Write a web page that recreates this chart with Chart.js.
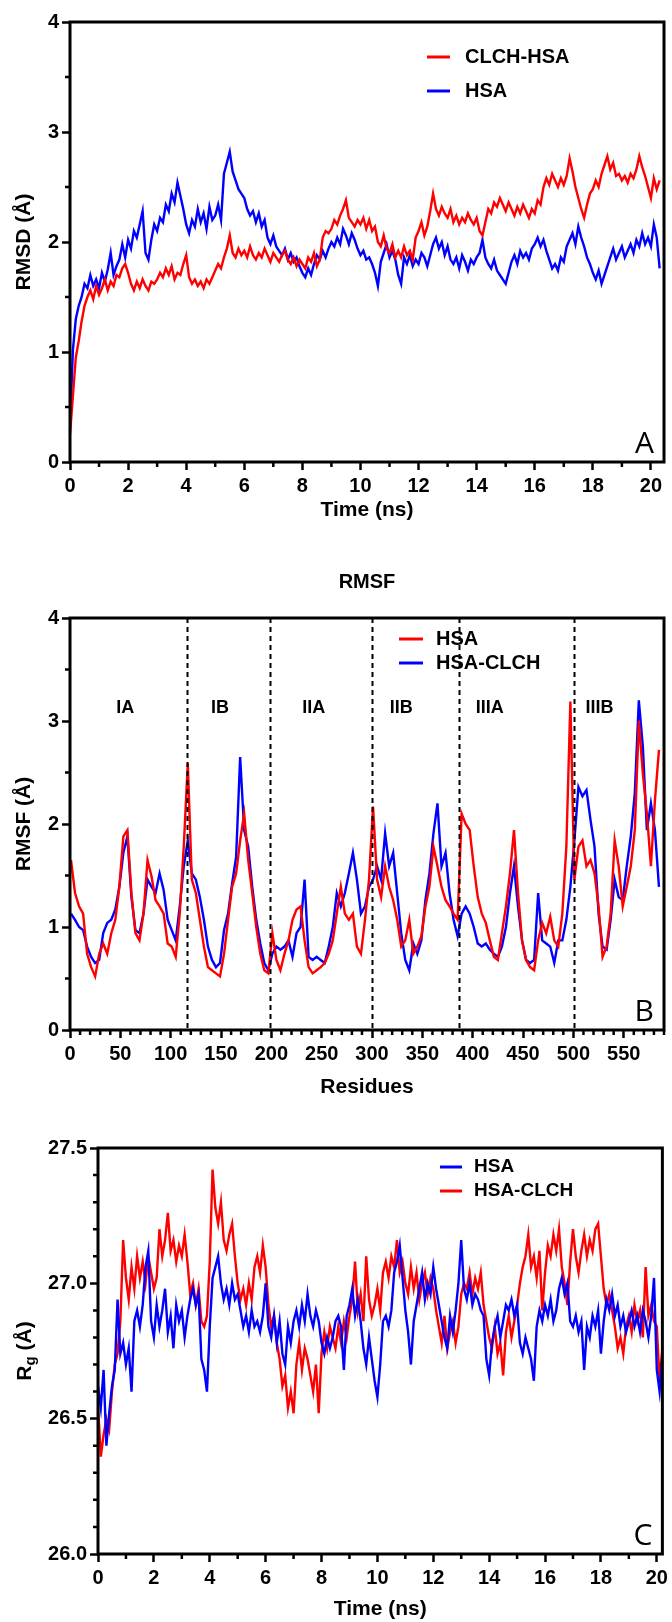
<!DOCTYPE html>
<html lang="en">
<head>
    <meta charset="UTF-8">
    <title>RMSD, RMSF and Rg - HSA / CLCH-HSA</title>
    <script src="https://cdn.jsdelivr.net/npm/chart.js"></script>
    <style>
        body {
            margin: 0;
            background: #fff;
        }

        .panel {
            position: absolute;
            left: 0;
        }

        #panelA { top: 0; }
        #panelB { top: 530px; }
        #panelC { top: 1110px; }
    </style>
</head>
<body>
    <div class="panel" id="panelA"><canvas id="rmsdChart" width="672" height="530"></canvas></div>
    <div class="panel" id="panelB"><canvas id="rmsfChart" width="672" height="580"></canvas></div>
    <div class="panel" id="panelC"><canvas id="rgChart" width="672" height="512"></canvas></div>

    <script>
        // ---- Panel A: RMSD (A), one value every 0.1 ns from 0 ns ----
        const rmsdTimeStep = 0.1;
        const rmsdComplex = [
            0.25, 0.60, 0.95, 1.10, 1.28, 1.42, 1.50, 1.56, 1.48, 1.60,
            1.52, 1.58, 1.66, 1.56, 1.64, 1.60, 1.70, 1.68, 1.76, 1.80,
            1.72, 1.62, 1.56, 1.64, 1.58, 1.66, 1.60, 1.56, 1.64, 1.62,
            1.66, 1.72, 1.68, 1.76, 1.70, 1.78, 1.66, 1.72, 1.70, 1.80,
            1.88, 1.68, 1.62, 1.66, 1.60, 1.64, 1.58, 1.66, 1.62, 1.68,
            1.74, 1.80, 1.76, 1.86, 1.94, 2.06, 1.90, 1.86, 1.94, 1.88,
            1.92, 1.86, 1.96, 1.88, 1.84, 1.90, 1.86, 1.94, 1.88, 1.82,
            1.90, 1.86, 1.82, 1.88, 1.92, 1.84, 1.80, 1.86, 1.78, 1.84,
            1.80, 1.76, 1.86, 1.82, 1.90, 1.78, 1.84, 2.04, 2.10, 2.08,
            2.12, 2.20, 2.16, 2.24, 2.30, 2.38, 2.22, 2.18, 2.14, 2.20,
            2.16, 2.22, 2.12, 2.20, 2.10, 2.14, 2.00, 1.96, 2.06, 1.94,
            1.90, 1.98, 1.86, 1.92, 1.86, 1.96, 1.88, 1.92, 1.84, 2.04,
            2.10, 2.18, 2.06, 2.14, 2.28, 2.44, 2.30, 2.24, 2.32, 2.26,
            2.22, 2.30, 2.18, 2.24, 2.16, 2.22, 2.18, 2.26, 2.20, 2.16,
            2.22, 2.10, 2.06, 2.18, 2.30, 2.26, 2.36, 2.32, 2.40, 2.34,
            2.28, 2.36, 2.30, 2.24, 2.32, 2.26, 2.34, 2.28, 2.22, 2.30,
            2.26, 2.38, 2.34, 2.50, 2.58, 2.52, 2.62, 2.56, 2.50, 2.58,
            2.52, 2.60, 2.76, 2.64, 2.50, 2.40, 2.30, 2.22, 2.34, 2.44,
            2.48, 2.56, 2.50, 2.62, 2.70, 2.78, 2.66, 2.72, 2.60, 2.62,
            2.56, 2.60, 2.54, 2.62, 2.58, 2.66, 2.78, 2.68, 2.60, 2.50,
            2.40, 2.58, 2.48, 2.56
        ];
        const rmsdFree = [
            0.30, 1.02, 1.30, 1.42, 1.50, 1.62, 1.58, 1.70, 1.60, 1.66,
            1.58, 1.72, 1.64, 1.75, 1.90, 1.70, 1.78, 1.84, 1.98, 1.86,
            2.02, 1.94, 2.10, 2.04, 2.16, 2.28, 1.90, 1.84, 2.02, 2.16,
            2.10, 2.22, 2.18, 2.34, 2.28, 2.44, 2.36, 2.54, 2.42, 2.30,
            2.16, 2.08, 2.20, 2.14, 2.30, 2.18, 2.26, 2.12, 2.32, 2.20,
            2.24, 2.34, 2.20, 2.62, 2.72, 2.82, 2.64, 2.56, 2.48, 2.44,
            2.40, 2.30, 2.24, 2.28, 2.18, 2.26, 2.14, 2.20, 2.04, 1.98,
            2.06, 1.96, 1.92, 1.88, 1.94, 1.84, 1.90, 1.82, 1.86, 1.78,
            1.72, 1.68, 1.76, 1.70, 1.80, 1.88, 1.84, 1.92, 1.86, 1.94,
            2.00, 1.96, 2.04, 1.98, 2.12, 2.06, 1.98, 2.08, 2.02, 1.94,
            1.88, 1.92, 1.84, 1.86, 1.80, 1.72, 1.60, 1.82, 1.90, 1.98,
            1.86, 1.92, 1.84, 1.70, 1.62, 1.86, 1.80, 1.88, 1.78, 1.84,
            1.80, 1.90, 1.86, 1.78, 1.88, 1.98, 2.04, 1.94, 2.00, 1.88,
            1.96, 1.84, 1.80, 1.86, 1.76, 1.88, 1.82, 1.74, 1.84, 1.80,
            1.86, 1.90, 2.02, 1.86, 1.80, 1.76, 1.84, 1.74, 1.70, 1.66,
            1.62, 1.72, 1.82, 1.88, 1.80, 1.92, 1.86, 1.90, 1.84, 1.94,
            1.98, 2.04, 1.96, 2.02, 1.92, 1.84, 1.76, 1.80, 1.74, 1.86,
            1.82, 1.96, 2.02, 2.08, 1.98, 2.14, 2.04, 1.96, 1.86, 1.80,
            1.72, 1.66, 1.74, 1.62, 1.70, 1.78, 1.86, 1.94, 1.84, 1.90,
            1.96, 1.86, 1.92, 1.98, 1.90, 2.02, 1.96, 2.08, 1.98, 2.04,
            1.96, 2.16, 2.04, 1.76
        ];

        // ---- Panel B: RMSF (A), every 4th residue starting at residue 1 ----
        const residueStep = 4;
        const rmsfHSA = [
            1.65, 1.33, 1.20, 1.13, 0.74, 0.61, 0.52, 0.74, 0.84, 0.74,
            0.94, 1.07, 1.39, 1.88, 1.94, 1.33, 0.94, 0.87, 1.13, 1.65,
            1.49, 1.26, 1.20, 1.13, 0.84, 0.81, 0.71, 1.13, 1.78, 2.59,
            1.46, 1.33, 1.07, 0.81, 0.61, 0.58, 0.55, 0.52, 0.74, 1.07,
            1.39, 1.52, 1.84, 2.10, 1.65, 1.33, 1.00, 0.74, 0.58, 0.55,
            0.94, 0.68, 0.58, 0.74, 0.87, 1.07, 1.17, 1.20, 0.87, 0.61,
            0.55, 0.58, 0.61, 0.65, 0.74, 0.87, 1.13, 1.39, 1.13, 1.07,
            1.13, 0.81, 0.74, 1.07, 1.46, 2.17, 1.46, 1.29, 1.59, 1.39,
            1.26, 1.07, 0.81, 0.87, 1.07, 0.74, 0.81, 0.91, 1.20, 1.39,
            1.78, 1.59, 1.39, 1.26, 1.20, 1.13, 1.07, 2.10, 2.00, 1.94,
            1.59, 1.29, 1.13, 1.04, 0.87, 0.71, 0.68, 0.94, 1.20, 1.52,
            1.94, 1.33, 0.87, 0.68, 0.61, 0.58, 0.87, 1.04, 0.94, 1.10,
            0.87, 0.81, 1.13, 1.78, 3.19, 1.46, 1.78, 1.84, 1.59, 1.65,
            1.52, 1.20, 0.71, 0.81, 1.13, 1.84, 1.59, 1.20, 1.39, 1.59,
            1.94, 3.00, 2.49, 2.10, 1.59, 2.23, 2.72
        ];
        const rmsfComplex = [
            1.13, 1.07, 1.00, 0.97, 0.81, 0.71, 0.65, 0.68, 0.94, 1.04,
            1.07, 1.17, 1.39, 1.72, 1.88, 1.29, 0.97, 0.94, 1.13, 1.46,
            1.39, 1.33, 1.52, 1.36, 1.07, 0.97, 0.87, 1.20, 1.59, 1.84,
            1.52, 1.46, 1.29, 1.07, 0.81, 0.68, 0.61, 0.65, 0.97, 1.13,
            1.42, 1.68, 2.65, 1.94, 1.78, 1.39, 1.07, 0.84, 0.65, 0.58,
            0.74, 0.81, 0.78, 0.81, 0.87, 0.71, 0.94, 1.00, 1.46, 0.71,
            0.68, 0.71, 0.68, 0.65, 0.81, 1.00, 1.33, 1.20, 1.33, 1.52,
            1.72, 1.46, 1.13, 1.20, 1.39, 1.46, 1.59, 1.46, 1.91, 1.59,
            1.72, 1.33, 0.94, 0.68, 0.58, 0.84, 0.74, 0.87, 1.26, 1.52,
            1.91, 2.20, 1.59, 1.72, 1.33, 1.07, 0.91, 1.13, 1.20, 1.13,
            1.00, 0.84, 0.81, 0.84, 0.78, 0.74, 0.71, 0.81, 1.00, 1.33,
            1.59, 1.20, 0.87, 0.68, 0.65, 0.68, 1.33, 0.87, 0.84, 0.81,
            0.65, 0.87, 0.87, 1.07, 1.39, 1.84, 2.36, 2.27, 2.33, 2.04,
            1.78, 1.13, 0.81, 0.78, 1.07, 1.46, 1.29, 1.26, 1.59, 1.88,
            2.30, 3.20, 2.75, 1.94, 2.20, 1.94, 1.39
        ];
        const domainBounds = [116, 199, 300, 386, 501];
        const domainNames = ['IA', 'IB', 'IIA', 'IIB', 'IIIA', 'IIIB'];
        const domainLabelX = [55, 149, 242, 329, 417, 526];
        const domainLabelY = 3.13;

        // ---- Panel C: Rg (A), one value every 0.1 ns from 0 ns ----
        const rgTimeStep = 0.1;
        const rgFree = [
            26.62, 26.54, 26.68, 26.40, 26.52, 26.62, 26.68, 26.94, 26.74, 26.78,
            26.70, 26.76, 26.60, 26.86, 26.90, 26.84, 26.92, 27.06, 27.12, 26.86,
            26.80, 26.92, 26.84, 26.90, 26.98, 26.82, 26.88, 26.76, 26.92, 26.86,
            26.90, 26.80, 26.88, 26.94, 26.98, 26.92, 26.96, 26.72, 26.68, 26.60,
            26.84, 27.02, 27.06, 27.10, 27.00, 26.94, 26.98, 26.92, 27.00, 26.94,
            26.96, 26.90, 26.84, 26.88, 26.82, 26.90, 26.84, 26.86, 26.82, 26.88,
            27.00, 26.84, 26.80, 26.88, 26.78, 26.86, 26.74, 26.70, 26.84, 26.78,
            26.86, 26.90, 26.84, 26.92, 26.86, 26.96, 26.88, 26.84, 26.90, 26.86,
            26.78, 26.74, 26.80, 26.76, 26.80, 26.86, 26.88, 26.84, 26.68, 26.88,
            26.92, 26.98, 26.88, 26.94, 26.86, 26.76, 26.70, 26.80, 26.72, 26.64,
            26.58, 26.70, 26.86, 26.88, 26.84, 26.90, 27.04, 27.08, 27.14, 27.02,
            26.90, 26.82, 26.70, 26.86, 26.92, 26.98, 27.04, 26.94, 27.00, 26.96,
            27.06, 26.98, 26.92, 26.86, 26.80, 26.76, 26.88, 26.82, 26.90, 27.00,
            27.16, 26.98, 26.94, 27.00, 26.92, 26.96, 26.94, 26.90, 26.88, 26.72,
            26.66, 26.78, 26.84, 26.88, 26.80, 26.86, 26.92, 26.90, 26.94, 26.88,
            26.92, 26.78, 26.74, 26.80, 26.76, 26.72, 26.64, 26.84, 26.90, 26.86,
            26.92, 26.88, 26.94, 26.86, 26.90, 26.98, 27.02, 26.96, 27.00, 26.86,
            26.84, 26.88, 26.82, 26.86, 26.68, 26.84, 26.80, 26.88, 26.84, 26.90,
            26.74, 26.86, 26.94, 26.90, 26.96, 26.88, 26.92, 26.84, 26.88, 26.82,
            26.86, 26.90, 26.84, 26.88, 26.82, 26.90, 26.86, 26.80, 26.88, 27.02,
            26.68, 26.60, 26.74
        ];
        const rgComplex = [
            26.55, 26.36, 26.44, 26.50, 26.46, 26.60, 26.70, 26.74, 26.86, 27.16,
            27.02, 26.94, 27.06, 26.98, 27.10, 27.02, 27.08, 27.00, 27.10, 27.04,
            26.98, 27.02, 27.20, 27.10, 27.16, 27.26, 27.12, 27.16, 27.08, 27.14,
            27.10, 27.18, 27.08, 26.96, 27.00, 26.92, 26.98, 26.86, 26.84, 26.88,
            27.08, 27.42, 27.28, 27.22, 27.30, 27.16, 27.12, 27.18, 27.22, 27.10,
            27.00, 26.94, 26.98, 26.92, 27.00, 26.94, 27.06, 27.10, 27.04, 27.14,
            27.06, 26.92, 26.84, 26.88, 26.78, 26.72, 26.62, 26.66, 26.54, 26.60,
            26.52, 26.70, 26.78, 26.68, 26.76, 26.72, 26.66, 26.60, 26.70, 26.52,
            26.74, 26.82, 26.76, 26.84, 26.80, 26.76, 26.84, 26.78, 26.86, 26.80,
            26.88, 26.94, 27.08, 26.90, 26.96, 26.86, 27.10, 26.94, 26.88, 26.92,
            26.98, 26.90, 27.04, 27.08, 27.02, 27.10, 27.06, 27.16, 27.04, 27.08,
            27.00, 26.96, 27.06, 26.98, 27.04, 26.94, 27.00, 27.04, 26.96, 27.02,
            26.98, 26.90, 26.84, 26.78, 26.88, 26.76, 26.82, 26.86, 26.78, 26.84,
            26.96, 27.00, 26.98, 27.04, 26.96, 27.02, 26.98, 27.04, 26.92, 26.86,
            26.80, 26.76, 26.84, 26.74, 26.78, 26.66, 26.82, 26.88, 26.80, 26.86,
            26.92, 27.00, 27.06, 27.10, 27.18, 27.06, 27.10, 27.02, 27.12, 26.90,
            27.04, 27.14, 27.10, 27.18, 27.12, 27.20, 27.06, 27.00, 26.92, 27.08,
            27.20, 27.10, 27.04, 27.12, 27.18, 27.10, 27.16, 27.12, 27.20, 27.22,
            27.10, 26.98, 26.92, 26.96, 26.90, 26.84, 26.76, 26.80, 26.74, 26.84,
            26.88, 26.82, 26.92, 26.86, 26.90, 26.80, 27.06, 26.88, 26.92, 26.86,
            26.84, 26.64, 26.76
        ];

        const RED = '#ff0000';
        const BLUE = '#0000ff';
        const FONT = "'Liberation Sans', Arial, Helvetica, sans-serif";

        Chart.defaults.font.family = FONT;
        Chart.defaults.color = '#000';

        // pair an x grid with the values of one series
        function toPoints(values, xAt) {
            return values.map((v, i) => ({ x: xAt(i), y: v }));
        }
        const rmsdTime = i => +(i * rmsdTimeStep).toFixed(1);
        const rgTime = i => +(i * rgTimeStep).toFixed(1);
        const residueAt = i => 1 + residueStep * i;

        function lineSet(label, values, xAt, color) {
            return {
                label: label,
                data: toPoints(values, xAt),
                borderColor: color,
                backgroundColor: color,
                borderWidth: 2.4,
                pointRadius: 0,
                tension: 0,
                fill: false
            };
        }

        // boxed frame, minor ticks, legend, panel letter and panel extras
        const panelDecor = {
            id: 'panelDecor',
            afterDatasetsDraw(chart, args, opts) {
                const { ctx, chartArea: a, scales: { x, y } } = chart;
                ctx.save();

                // dashed domain separators (panel B)
                if (opts.bounds) {
                    ctx.strokeStyle = '#000';
                    ctx.lineWidth = 2;
                    ctx.setLineDash([5, 4]);
                    opts.bounds.forEach(b => {
                        const px = Math.round(x.getPixelForValue(b)) + 0.5;
                        ctx.beginPath();
                        ctx.moveTo(px, a.top);
                        ctx.lineTo(px, a.bottom);
                        ctx.stroke();
                    });
                    ctx.setLineDash([]);
                    ctx.font = 'bold 18px ' + FONT;
                    ctx.fillStyle = '#000';
                    ctx.textAlign = 'center';
                    ctx.textBaseline = 'middle';
                    opts.names.forEach((n, i) => {
                        ctx.fillText(n, x.getPixelForValue(opts.namesX[i]), y.getPixelForValue(opts.namesY));
                    });
                }

                // frame
                ctx.strokeStyle = '#000';
                ctx.lineWidth = 3;
                ctx.strokeRect(a.left, a.top, a.right - a.left, a.bottom - a.top);

                // minor ticks
                ctx.lineWidth = 2.5;
                ctx.beginPath();
                const xs = opts.xMinor, ys = opts.yMinor;
                for (let k = 0; x.min + k * xs <= x.max + 1e-9; k++) {
                    const v = x.min + k * xs;
                    if (Math.abs(v / opts.xMajor - Math.round(v / opts.xMajor)) < 1e-6) continue;
                    const px = x.getPixelForValue(v);
                    ctx.moveTo(px, a.bottom);
                    ctx.lineTo(px, a.bottom + 5);
                }
                for (let k = 0; y.min + k * ys <= y.max + 1e-9; k++) {
                    const v = y.min + k * ys;
                    if (Math.abs((v - y.min) / opts.yMajor - Math.round((v - y.min) / opts.yMajor)) < 1e-6) continue;
                    const py = y.getPixelForValue(v);
                    ctx.moveTo(a.left, py);
                    ctx.lineTo(a.left - 5, py);
                }
                ctx.stroke();

                // legend inside the plot
                const lg = opts.legend;
                ctx.font = 'bold ' + lg.size + 'px ' + FONT;
                ctx.textAlign = 'left';
                ctx.textBaseline = 'middle';
                lg.order.forEach((di, row) => {
                    const ds = chart.data.datasets[di];
                    const ly = lg.y + row * lg.dy;
                    ctx.strokeStyle = ds.borderColor;
                    ctx.lineWidth = 3;
                    ctx.beginPath();
                    ctx.moveTo(lg.x, ly);
                    ctx.lineTo(lg.x + lg.len, ly);
                    ctx.stroke();
                    ctx.fillStyle = '#000';
                    ctx.fillText(ds.label, lg.textX, ly);
                });

                // panel letter
                ctx.font = '30px "Open Sans", "Noto Sans", sans-serif';
                ctx.fillStyle = '#000';
                ctx.textAlign = 'right';
                ctx.textBaseline = 'alphabetic';
                ctx.fillText(opts.letter, a.right - 10, a.bottom - 9);

                // Rg axis title with subscript (panel C)
                if (opts.rgTitle) {
                    const cy = (a.top + a.bottom) / 2;
                    ctx.translate(25, cy);
                    ctx.rotate(-Math.PI / 2);
                    ctx.fillStyle = '#000';
                    ctx.textBaseline = 'middle';
                    ctx.textAlign = 'left';
                    const big = 'bold 21px ' + FONT, small = 'bold 15px ' + FONT;
                    ctx.font = big;
                    const wR = ctx.measureText('R').width;
                    const wRest = ctx.measureText(' (Å)').width;
                    ctx.font = small;
                    const wg = ctx.measureText('g').width;
                    let sx = -(wR + wg + wRest) / 2;
                    ctx.font = big;
                    ctx.fillText('R', sx, 0);
                    sx += wR;
                    ctx.font = small;
                    ctx.fillText('g', sx, 6);
                    sx += wg;
                    ctx.font = big;
                    ctx.fillText(' (Å)', sx, 0);
                }
                ctx.restore();
            }
        };

        function axisX(min, max, step, titleText, height, titleBottom) {
            return {
                type: 'linear',
                min: min,
                max: max,
                border: { display: false },
                grid: { drawOnChartArea: false, drawTicks: true, tickLength: 8, tickWidth: 2.5, tickColor: '#000' },
                ticks: {
                    stepSize: step,
                    includeBounds: false,
                    maxRotation: 0,
                    autoSkip: false,
                    padding: 4,
                    color: '#000',
                    font: { size: 20, weight: 'bold' }
                },
                title: {
                    display: true,
                    text: titleText,
                    color: '#000',
                    font: { size: 21, weight: 'bold' },
                    padding: { top: 0, bottom: titleBottom }
                },
                afterFit(scale) { scale.height = height; }
            };
        }

        function axisY(min, max, step, titleText, width, digits) {
            return {
                type: 'linear',
                min: min,
                max: max,
                border: { display: false },
                grid: { drawOnChartArea: false, drawTicks: true, tickLength: 8, tickWidth: 2.5, tickColor: '#000' },
                ticks: {
                    stepSize: step,
                    padding: 3,
                    color: '#000',
                    font: { size: 20, weight: 'bold' },
                    callback: v => v.toFixed(digits)
                },
                title: {
                    display: titleText !== '',
                    text: titleText,
                    color: '#000',
                    font: { size: 21, weight: 'bold' },
                    padding: { top: 12, bottom: 0 }
                },
                afterFit(scale) { scale.width = width; }
            };
        }

        const common = {
            responsive: false,
            animation: false,
            devicePixelRatio: 1,
            parsing: true
        };

        // Panel A - RMSD
        new Chart(document.getElementById('rmsdChart'), {
            type: 'line',
            data: {
                datasets: [
                    lineSet('CLCH-HSA', rmsdComplex, rmsdTime, RED),
                    lineSet('HSA', rmsdFree, rmsdTime, BLUE)
                ]
            },
            options: {
                ...common,
                layout: { padding: { top: 22, right: 8, bottom: 0, left: 0 } },
                plugins: {
                    legend: { display: false },
                    tooltip: { enabled: false },
                    panelDecor: {
                        xMinor: 1, xMajor: 2, yMinor: 0.5, yMajor: 1,
                        legend: { x: 427, y: 57, dy: 34, len: 23, textX: 465, size: 20, order: [0, 1] },
                        letter: 'A'
                    }
                },
                scales: {
                    x: axisX(0, 20.45, 2, 'Time (ns)', 68, 7),
                    y: axisY(0, 4, 1, 'RMSD (Å)', 70, 0)
                }
            },
            plugins: [panelDecor]
        });

        // Panel B - RMSF
        new Chart(document.getElementById('rmsfChart'), {
            type: 'line',
            data: {
                datasets: [
                    lineSet('HSA', rmsfHSA, residueAt, RED),
                    lineSet('HSA-CLCH', rmsfComplex, residueAt, BLUE)
                ]
            },
            options: {
                ...common,
                layout: { padding: { top: 0, right: 8, bottom: 0, left: 0 } },
                plugins: {
                    legend: { display: false },
                    tooltip: { enabled: false },
                    title: {
                        display: true,
                        text: 'RMSF',
                        fullSize: false,
                        color: '#000',
                        font: { size: 20, weight: 'bold' },
                        padding: { top: 40, bottom: 24 }
                    },
                    panelDecor: {
                        xMinor: 10, xMajor: 50, yMinor: 0.5, yMajor: 1,
                        bounds: domainBounds,
                        names: domainNames, namesX: domainLabelX, namesY: domainLabelY,
                        legend: { x: 399, y: 109, dy: 24, len: 24, textX: 436, size: 20, order: [0, 1] },
                        letter: 'B'
                    }
                },
                scales: {
                    x: axisX(0, 590, 50, 'Residues', 80, 10),
                    y: axisY(0, 4, 1, 'RMSF (Å)', 70, 0)
                }
            },
            plugins: [panelDecor]
        });

        // Panel C - radius of gyration
        new Chart(document.getElementById('rgChart'), {
            type: 'line',
            data: {
                datasets: [
                    lineSet('HSA', rgFree, rgTime, BLUE),
                    lineSet('HSA-CLCH', rgComplex, rgTime, RED)
                ]
            },
            options: {
                ...common,
                layout: { padding: { top: 38, right: 8, bottom: 0, left: 0 } },
                plugins: {
                    legend: { display: false },
                    tooltip: { enabled: false },
                    panelDecor: {
                        xMinor: 1, xMajor: 2, yMinor: 0.1, yMajor: 0.5,
                        legend: { x: 440, y: 57, dy: 24, len: 22, textX: 474, size: 19, order: [0, 1] },
                        letter: 'C',
                        rgTitle: true
                    }
                },
                scales: {
                    x: axisX(0, 20.2, 2, 'Time (ns)', 68, 0),
                    y: axisY(26, 27.5, 0.5, '', 98, 1)
                }
            },
            plugins: [panelDecor]
        });
    </script>
</body>
</html>
